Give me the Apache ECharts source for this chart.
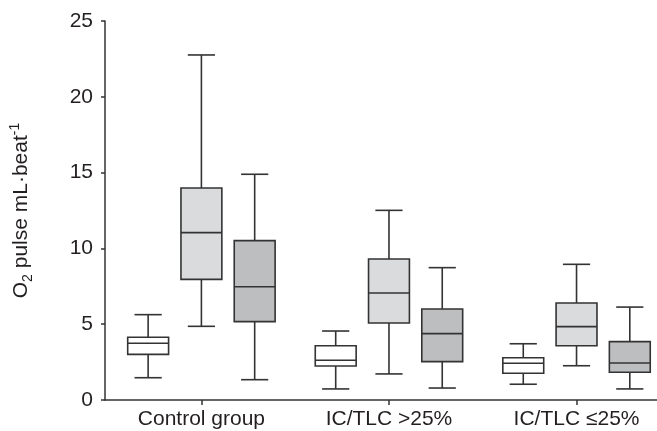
<!DOCTYPE html>
<html>
<head>
<meta charset="utf-8">
<script src="https://cdn.jsdelivr.net/npm/echarts@6/dist/echarts.min.js"></script>
<style>
html,body{margin:0;padding:0;background:#fff;}
#chart{width:657px;height:431px;}
</style>
</head>
<body>
<div id="chart"></div>
<script>
// Categories and tick labels
const categories = ['Control group', 'IC/TLC >25%', 'IC/TLC \u226425%'];
const yTicks = [0, 5, 10, 15, 20, 25];

// Each entry: [min, Q1, median, Q3, max] per category
const seriesWhite = [
  [1.47, 3.01, 3.74, 4.14, 5.63],
  [0.73, 2.24, 2.62, 3.58, 4.55],
  [1.04, 1.76, 2.42, 2.79, 3.71]
];
const seriesLight = [
  [4.86, 7.96, 11.04, 13.98, 22.76],
  [1.72, 5.08, 7.06, 9.30, 12.51],
  [2.26, 3.58, 4.84, 6.40, 8.95]
];
const seriesDark = [
  [1.34, 5.17, 7.47, 10.51, 14.89],
  [0.79, 2.53, 4.38, 6.00, 8.73],
  [0.73, 1.83, 2.44, 3.85, 6.13]
];

const LINE = '#333333';
const TEXT = '#231f20';
const FONT = 'Liberation Sans, Arial, sans-serif';

function toData(arr) {
  return arr.map((d, i) => [i].concat(d));
}

function makeRender(offsetFrac, fill) {
  return function (params, api) {
    const ci = api.value(0);
    const lo = api.value(1), q1 = api.value(2), md = api.value(3), q3 = api.value(4), hi = api.value(5);
    const band = api.size([1, 0])[0];
    const cx = api.coord([ci, 0])[0] + offsetFrac * band;
    const bw = band * 0.218;
    const cw = band * 0.145;
    const y = v => api.coord([ci, v])[1];
    const s = { stroke: LINE, lineWidth: 1.6, fill: null };
    return {
      type: 'group',
      children: [
        { type: 'line', shape: { x1: cx, y1: y(hi), x2: cx, y2: y(q3) }, style: s },
        { type: 'line', shape: { x1: cx, y1: y(q1), x2: cx, y2: y(lo) }, style: s },
        { type: 'line', shape: { x1: cx - cw / 2, y1: y(hi), x2: cx + cw / 2, y2: y(hi) }, style: s },
        { type: 'line', shape: { x1: cx - cw / 2, y1: y(lo), x2: cx + cw / 2, y2: y(lo) }, style: s },
        { type: 'rect', shape: { x: cx - bw / 2, y: y(q3), width: bw, height: y(q1) - y(q3) },
          style: { fill: fill, stroke: LINE, lineWidth: 1.6 } },
        { type: 'line', shape: { x1: cx - bw / 2, y1: y(md), x2: cx + bw / 2, y2: y(md) }, style: s }
      ]
    };
  };
}

const chart = echarts.init(document.getElementById('chart'), null, { renderer: 'canvas' });

const option = {
  backgroundColor: '#ffffff',
  animation: false,
  grid: { left: 104.5, right: 0, top: 21, bottom: 31 },
  textStyle: { fontFamily: FONT },
  xAxis: {
    type: 'value',
    min: -0.514,
    max: 2.429,
    splitLine: { show: false },
    axisLine: { show: true, onZero: false, lineStyle: { color: LINE, width: 1.5 } },
    axisTick: { show: true, length: 5, customValues: [0, 1, 2], lineStyle: { color: LINE, width: 1.5 } },
    axisLabel: {
      customValues: [0, 1, 2],
      formatter: v => categories[Math.round(v)],
      fontSize: 21,
      color: TEXT,
      margin: 9,
      fontFamily: FONT
    }
  },
  yAxis: {
    type: 'value',
    min: 0,
    max: 25,
    interval: 5,
    splitLine: { show: false },
    axisLine: { show: true, onZero: false, lineStyle: { color: LINE, width: 1.5 } },
    axisTick: { show: true, length: 4, lineStyle: { color: LINE, width: 1.5 } },
    axisLabel: {
      fontSize: 21,
      color: TEXT,
      margin: 12,
      formatter: v => (yTicks.indexOf(v) >= 0 ? String(v) : ''),
      fontFamily: FONT
    },
    name: '{a|O}{sub|2}{a| pulse mL\u00b7beat}{sup|-1}',
    nameLocation: 'middle',
    nameRotate: 90,
    nameGap: 70,
    nameTextStyle: {
      color: TEXT,
      fontFamily: FONT,
      rich: {
        a: { fontSize: 21, lineHeight: 27, color: TEXT, fontFamily: FONT },
        sub: { fontSize: 14, lineHeight: 4, verticalAlign: 'bottom', color: TEXT, fontFamily: FONT },
        sup: { fontSize: 14, lineHeight: 15, verticalAlign: 'top', color: TEXT, fontFamily: FONT }
      }
    }
  },
  series: [
    { type: 'custom', name: 'White', renderItem: makeRender(-0.284, '#ffffff'),
      encode: { x: 0, y: [1, 2, 3, 4, 5] }, data: toData(seriesWhite) },
    { type: 'custom', name: 'Light', renderItem: makeRender(0, '#dadbdd'),
      encode: { x: 0, y: [1, 2, 3, 4, 5] }, data: toData(seriesLight) },
    { type: 'custom', name: 'Dark', renderItem: makeRender(0.284, '#bdbec0'),
      encode: { x: 0, y: [1, 2, 3, 4, 5] }, data: toData(seriesDark) }
  ]
};

chart.setOption(option);
</script>
</body>
</html>
